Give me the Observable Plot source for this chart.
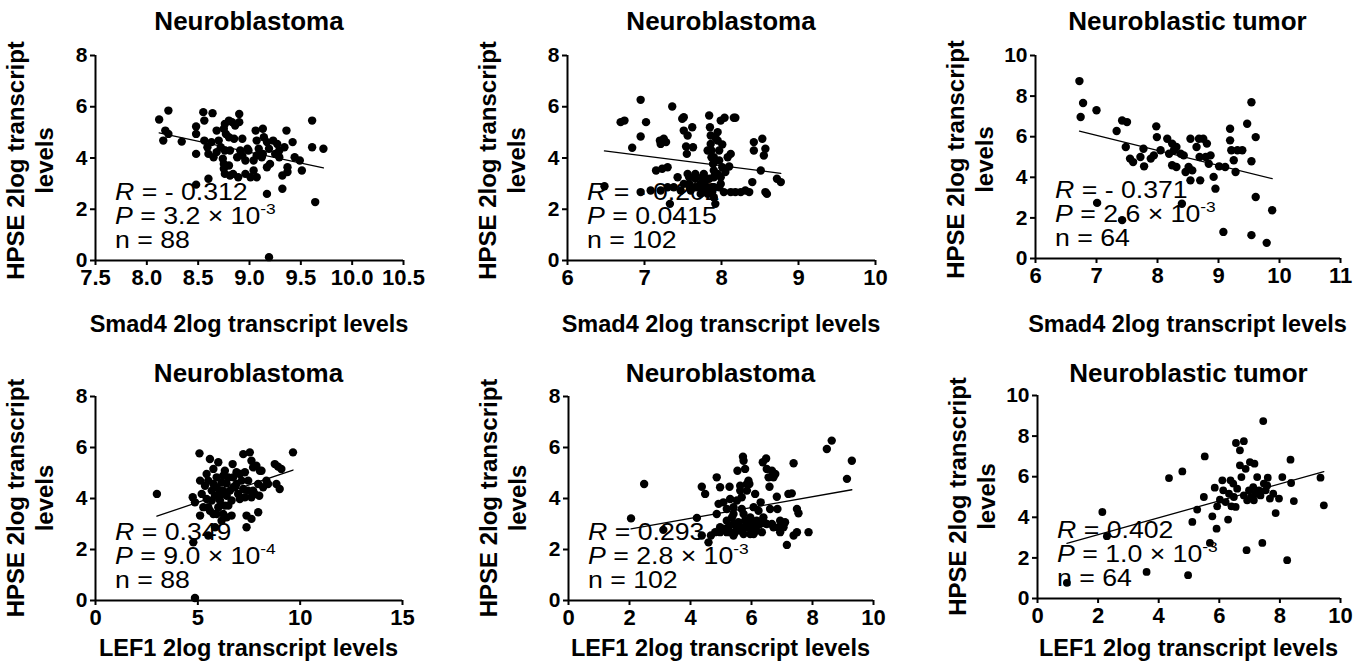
<!DOCTYPE html>
<html><head><meta charset="utf-8">
<script src="https://cdn.jsdelivr.net/npm/d3@7"></script>
<script src="https://cdn.jsdelivr.net/npm/@observablehq/plot@0.6"></script>
<style>
html,body{margin:0;padding:0;background:#fff;}
#wrap{position:relative;width:1371px;height:672px;overflow:hidden;font-family:"Liberation Sans",Arial,sans-serif;}
#wrap svg{position:absolute;}
</style></head><body><div id="wrap"></div>
<script>
// ---------- text ----------
const titles = ["Neuroblastoma","Neuroblastoma","Neuroblastic tumor","Neuroblastoma","Neuroblastoma","Neuroblastic tumor"];
const xLabels = ["Smad4 2log transcript levels","Smad4 2log transcript levels","Smad4 2log transcript levels","LEF1 2log transcript levels","LEF1 2log transcript levels","LEF1 2log transcript levels"];
const yLabelLines = ["HPSE 2log transcript","levels"];
const rTexts = ["- 0.312","- 0.202","- 0.371","0.349","0.293","0.402"];
const pMantissa = ["3.2","0.0415","2.6","9.0","2.8","1.0"];
const pExponent = ["-3",null,"-3","-4","-3","-3"];
const nValues = [88,102,64,88,102,64];
// ---------- axes ----------
const xDomains = [[7.5,10.5],[6,10],[6,11],[0,15],[0,10],[0,10]];
const xTicks = [[7.5,8,8.5,9,9.5,10,10.5],[6,7,8,9,10],[6,7,8,9,10,11],[0,5,10,15],[0,2,4,6,8,10],[0,2,4,6,8,10]];
const xTickFormats = [".1f","d","d","d","d","d"];
const yDomains = [[0,8],[0,8],[0,10],[0,8],[0,8],[0,10]];
const yTicks = [[0,2,4,6,8],[0,2,4,6,8],[0,2,4,6,8,10],[0,2,4,6,8],[0,2,4,6,8],[0,2,4,6,8,10]];
// ---------- data: [x, y] ----------
const smadNB1 = [[8.12,5.50],[8.21,5.85],[8.18,5.07],[8.21,4.94],[8.16,4.68],[8.34,4.64],[8.48,5.23],[8.48,4.94],[8.48,4.16],[8.55,5.79],
[8.56,5.46],[8.64,5.75],[8.56,4.68],[8.59,4.42],[8.63,4.62],[8.60,4.16],[8.65,4.03],[8.60,3.19],[8.48,2.96],[8.68,5.07],
[8.75,5.14],[8.76,5.33],[8.80,5.46],[8.83,5.40],[8.90,5.40],[8.90,5.72],[8.77,4.94],[8.80,4.81],[8.72,4.42],[8.76,4.29],
[8.81,4.29],[8.74,3.97],[8.75,3.77],[8.75,3.58],[8.76,3.38],[8.81,3.32],[8.88,4.03],[8.93,4.10],[8.96,3.90],[8.98,4.36],
[8.89,3.25],[8.96,3.38],[9.01,3.25],[9.04,3.51],[9.06,5.07],[9.07,4.68],[9.09,4.36],[9.07,4.10],[9.12,4.03],[9.13,5.14],
[9.14,4.81],[9.17,4.62],[9.19,4.36],[9.20,3.77],[9.17,3.64],[9.17,2.60],[9.19,0.13],[9.23,4.68],[9.27,4.55],[9.29,4.29],
[9.29,4.03],[9.32,3.32],[9.32,2.80],[9.34,4.42],[9.36,5.07],[9.37,3.64],[9.37,3.45],[9.42,4.62],[9.44,4.03],[9.49,3.90],
[9.51,3.51],[9.61,5.46],[9.61,4.42],[9.64,2.28],[9.72,4.36],[8.85,4.75],[8.93,4.75],[8.99,4.29],[8.91,4.29],[8.68,4.23],
[8.70,4.68],[8.86,5.27],[9.04,3.90],[9.13,4.16],[9.25,4.16],[8.84,3.38],[9.07,3.25],[8.80,3.71]];
const smadNB2 = [[6.48,2.90],[6.69,5.40],[6.74,5.46],[6.84,4.40],[6.95,6.27],[6.95,4.84],[6.95,2.67],[7.02,5.40],[7.08,2.73],[7.15,3.51],
[7.20,4.68],[7.21,4.55],[7.25,4.75],[7.28,4.62],[7.21,2.73],[7.23,3.58],[7.30,3.64],[7.30,2.86],[7.33,2.21],[7.36,6.01],
[7.38,2.86],[7.43,3.25],[7.47,2.73],[7.49,5.53],[7.51,5.59],[7.51,5.07],[7.54,4.45],[7.55,4.16],[7.56,4.88],[7.58,3.25],
[7.58,2.99],[7.59,2.86],[7.62,5.20],[7.63,4.42],[7.66,3.19],[7.69,2.86],[7.73,2.99],[7.75,2.67],[7.75,3.25],[7.79,3.12],
[7.82,2.86],[7.84,5.66],[7.85,5.20],[7.86,4.55],[7.87,4.29],[7.87,4.03],[7.89,3.77],[7.90,3.51],[7.90,3.25],[7.90,2.86],
[7.88,2.67],[7.90,2.47],[7.92,2.21],[7.95,5.01],[7.95,4.68],[7.97,4.29],[7.97,3.90],[7.95,3.38],[7.99,3.25],[7.99,5.46],
[8.01,4.53],[8.04,5.57],[8.05,3.45],[8.08,4.03],[8.10,3.67],[8.12,2.67],[8.16,5.57],[8.18,5.57],[8.12,4.16],[8.18,2.67],
[8.25,2.67],[8.31,2.73],[8.36,2.67],[8.40,3.06],[8.42,4.62],[8.42,4.29],[8.51,3.51],[8.53,4.75],[8.55,4.10],[8.57,4.36],
[8.57,2.67],[8.59,2.60],[8.72,3.19],[8.77,3.06],[7.65,2.86],[7.77,2.86],[7.84,3.19],[7.60,2.73],[7.97,2.86],[8.03,2.67],
[7.73,2.60],[7.82,2.60],[7.92,4.81],[7.86,4.88],[7.99,2.99],[7.66,3.38],[7.77,3.38],[7.56,3.38],[7.51,2.99],[7.90,4.03],
[8.01,3.64],[7.82,4.29]];
const smadNT = [[6.72,8.74],[6.78,7.66],[6.74,6.97],[7.00,7.30],[7.01,2.74],[7.33,6.28],[7.42,6.80],[7.50,6.72],[7.42,1.89],[7.48,5.49],
[7.55,4.92],[7.60,4.75],[7.72,5.00],[7.77,5.41],[7.78,4.54],[7.89,4.92],[7.94,5.08],[7.98,6.51],[7.99,5.98],[8.16,5.90],
[8.19,5.16],[8.24,5.66],[8.27,5.33],[8.31,5.49],[8.24,4.59],[8.31,4.51],[8.38,5.16],[8.40,2.70],[8.46,4.26],[8.51,4.51],
[8.54,5.90],[8.54,3.85],[8.57,4.34],[8.64,5.49],[8.68,5.90],[8.69,5.00],[8.70,3.85],[8.75,5.90],[8.79,5.00],[8.81,5.66],
[8.84,4.67],[8.92,4.02],[8.95,3.44],[9.01,4.54],[9.08,1.31],[9.19,6.39],[9.19,5.82],[9.21,5.33],[9.25,4.84],[9.28,4.26],
[9.31,5.33],[9.39,5.33],[9.47,6.64],[9.54,7.70],[9.54,4.79],[9.54,1.15],[9.61,5.98],[9.61,3.03],[9.79,0.77],[9.88,2.38],
[8.05,5.33],[8.43,5.08],[8.87,5.08],[9.11,4.51]];
const lefNB1 = [[3.00,4.18],[4.75,4.05],[4.86,3.85],[4.78,2.28],[4.86,0.10],[5.08,5.77],[5.11,4.70],[5.11,3.33],[5.35,4.50],[5.43,4.96],
[5.59,5.55],[5.68,4.31],[5.51,3.66],[5.51,2.55],[5.76,3.39],[5.84,2.87],[5.76,5.16],[5.92,4.83],[6.00,5.42],[6.08,3.92],
[6.16,4.63],[6.16,4.18],[6.24,3.39],[6.32,3.72],[6.41,3.26],[6.49,4.83],[6.57,4.31],[6.65,3.92],[6.65,3.33],[6.70,5.35],
[6.81,4.44],[6.89,5.03],[7.05,4.96],[7.14,4.70],[7.22,4.37],[7.22,5.74],[7.30,5.03],[7.38,3.33],[7.38,2.87],[7.46,4.70],
[7.54,5.81],[7.62,5.48],[7.62,4.05],[7.62,3.20],[7.70,4.31],[7.70,5.22],[7.86,5.29],[7.95,4.57],[8.00,4.11],[8.03,5.09],
[8.11,5.09],[7.95,3.46],[8.19,4.44],[8.35,4.70],[8.43,4.57],[8.76,5.35],[8.84,4.57],[8.92,5.25],[9.00,4.37],[9.08,5.16],
[9.65,5.81],[5.19,4.18],[5.27,3.66],[5.43,3.98],[5.59,3.52],[5.84,4.11],[5.92,4.44],[6.00,3.66],[6.24,4.31],[6.32,5.09],
[6.41,4.11],[6.49,3.72],[6.73,4.83],[6.97,4.18],[7.05,3.98],[7.30,4.05],[7.46,4.31],[7.78,4.18],[5.76,4.57],[6.08,4.31],
[5.68,3.92],[6.16,3.13],[5.92,3.39],[6.73,4.44],[5.51,4.70],[6.24,4.89],[6.89,4.57],[6.40,4.60]];
const lefNB2 = [[2.05,3.22],[2.48,4.57],[3.11,2.77],[4.21,3.24],[4.37,4.46],[4.48,4.18],[4.37,2.55],[4.59,2.28],[4.67,2.55],[4.86,4.83],
[4.97,4.44],[4.86,3.39],[4.92,3.79],[4.97,2.87],[5.08,3.85],[5.19,3.13],[5.28,4.46],[5.30,2.68],[5.41,3.39],[5.41,3.66],
[5.46,2.68],[5.52,3.92],[5.54,5.09],[5.57,3.07],[5.63,4.50],[5.68,4.05],[5.72,5.64],[5.74,5.48],[5.74,3.39],[5.79,2.87],
[5.79,5.16],[5.85,4.31],[5.90,4.70],[5.93,4.57],[5.96,2.61],[6.01,3.13],[6.07,3.66],[6.12,2.87],[6.12,4.18],[6.17,2.74],
[6.23,3.52],[6.34,2.68],[6.37,5.42],[6.39,3.26],[6.45,3.03],[6.48,5.57],[6.50,5.16],[6.56,4.83],[6.59,4.46],[6.61,3.59],
[6.67,5.09],[6.72,4.83],[6.78,4.96],[6.83,4.07],[6.85,3.59],[6.89,2.87],[6.94,2.68],[7.10,3.07],[7.16,2.18],[7.21,4.18],
[7.32,4.20],[7.38,5.38],[7.38,2.55],[7.49,2.68],[7.49,3.59],[7.54,3.42],[7.87,2.68],[8.47,5.94],[8.63,6.27],[9.13,4.77],
[9.29,5.48],[5.25,2.87],[5.41,3.00],[5.52,2.87],[5.63,2.74],[5.60,2.90],[5.79,3.13],[5.90,3.00],[5.96,3.26],[6.01,2.87],
[6.28,3.00],[6.50,3.00],[6.67,3.00],[6.72,2.87],[5.08,2.81],[4.81,2.68],[4.97,2.68],[5.19,2.68],[5.41,2.55],[5.74,2.61],
[6.07,2.61],[5.19,3.59],[5.36,3.26],[5.68,3.59],[5.85,4.57],[5.63,4.31],[5.30,3.98],[5.90,2.87],[6.17,3.13],[7.05,2.87],
[6.94,3.13],[6.30,3.85]];
const lefNT = [[0.97,0.77],[2.14,4.26],[2.29,3.07],[3.60,1.31],[4.34,5.93],[4.78,6.26],[4.97,1.15],[5.11,3.77],[5.27,4.38],[5.49,5.00],
[5.52,7.00],[5.69,2.74],[5.77,4.05],[5.85,5.46],[5.91,3.44],[5.93,4.54],[6.02,4.87],[6.10,5.82],[6.13,5.33],[6.21,4.75],
[6.29,3.89],[6.32,5.16],[6.37,5.82],[6.40,4.54],[6.46,5.66],[6.48,5.00],[6.54,4.51],[6.55,7.66],[6.59,5.41],[6.68,7.30],
[6.68,6.56],[6.73,5.98],[6.81,7.75],[6.87,6.39],[6.90,2.38],[6.92,4.84],[6.98,5.33],[7.01,6.72],[7.05,5.00],[7.12,5.49],
[7.16,6.64],[7.20,5.16],[7.25,5.98],[7.31,5.33],[7.36,5.08],[7.42,2.74],[7.45,8.74],[7.47,5.66],[7.53,5.33],[7.60,5.95],
[7.67,4.92],[7.78,5.16],[7.86,4.21],[7.97,4.92],[8.08,5.98],[8.24,1.89],[8.35,6.84],[8.37,5.69],[8.46,4.80],[9.34,5.95],
[9.45,4.59],[6.81,5.08],[7.14,4.84],[7.58,5.57]];
const panelData = [smadNB1, smadNB2, smadNT, lefNB1, lefNB2, lefNT];

// ---------- layout ----------
const frames = [
  {left:95, right:403, top:55, bottom:260},
  {left:567, right:875, top:55, bottom:260},
  {left:1035, right:1340, top:55, bottom:258},
  {left:95, right:402, top:396, bottom:600},
  {left:568, right:873, top:396, bottom:600},
  {left:1037, right:1340, top:395, bottom:598}
];
const rowTitleY = [29.5, 382];
const rowXLabelY = [331.5, 656];
const rowYLabelShift = [3, 0];
const dotR = [4.2, 4.2, 4.2, 4.2, 4.2, 3.9];
const FONT = '"Liberation Sans", Arial, Helvetica, sans-serif';

const wrap = document.getElementById("wrap");
const ML = 70, MR = 30, MT = 10, MB = 45;

panelData.forEach((data, i) => {
  const f = frames[i];
  const W = f.right - f.left, H = f.bottom - f.top;
  const fmt = d3.format(xTickFormats[i]);
  const chart = Plot.plot({
    width: W + ML + MR, height: H + MT + MB,
    marginLeft: ML, marginRight: MR, marginTop: MT, marginBottom: MB,
    x: {domain: xDomains[i]},
    y: {domain: yDomains[i]},
    style: {fontFamily: FONT, background: "none", overflow: "visible", color: "black"},
    marks: [
      Plot.axisX(xTicks[i], {tickSize: 5, tickPadding: 4, tickFormat: fmt, fontSize: 22, fontWeight: "bold", strokeWidth: 2, fill: "black", label: null}),
      Plot.axisY(yTicks[i], {tickSize: 5, tickPadding: 3, fontSize: 21, fontWeight: "bold", strokeWidth: 2, fill: "black", label: null}),
      Plot.ruleY([yDomains[i][0]], {strokeWidth: 2, stroke: "black"}),
      Plot.ruleX([xDomains[i][0]], {strokeWidth: 2, stroke: "black"}),
      Plot.dot(data, {x: d => d[0], y: d => d[1], r: dotR[i], fill: "black"}),
      Plot.linearRegressionY(data, {x: d => d[0], y: d => d[1], ci: 0, stroke: "black", strokeWidth: 1.3})
    ]
  });
  chart.style.left = (f.left - ML) + "px";
  chart.style.top = (f.top - MT) + "px";
  wrap.appendChild(chart);
});

// ---------- overlay text ----------
const ov = d3.create("svg").attr("width", 1371).attr("height", 672)
  .style("left", "0px").style("top", "0px")
  .attr("font-family", FONT).attr("fill", "black");

frames.forEach((f, i) => {
  const row = i < 3 ? 0 : 1;
  const cx = (f.left + f.right) / 2, cy = (f.top + f.bottom) / 2 + rowYLabelShift[row];
  ov.append("text").attr("x", cx).attr("y", rowTitleY[row]).attr("text-anchor", "middle")
    .attr("font-size", 26).attr("font-weight", "bold").text(titles[i]);
  ov.append("text").attr("x", cx).attr("y", rowXLabelY[row]).attr("text-anchor", "middle")
    .attr("font-size", 23.5).attr("font-weight", "bold").text(xLabels[i]);
  yLabelLines.forEach((line, j) => {
    ov.append("text").attr("transform", `translate(${f.left - 71 + 29 * j},${cy}) rotate(-90)`)
      .attr("text-anchor", "middle").attr("font-size", 24).attr("font-weight", "bold").text(line);
  });
  const g = ov.append("g").attr("transform", `translate(${f.left + 20},0) scale(1.16,1)`)
    .attr("font-size", 23);
  const r = g.append("text").attr("x", 0).attr("y", f.bottom - 60);
  r.append("tspan").attr("font-style", "italic").text("R");
  r.append("tspan").text(" = " + rTexts[i]);
  const p = g.append("text").attr("x", 0).attr("y", f.bottom - 36);
  p.append("tspan").attr("font-style", "italic").text("P");
  if (pExponent[i]) {
    p.append("tspan").text(" = " + pMantissa[i] + " \u00D7 10");
    p.append("tspan").attr("font-size", 15).attr("dy", -10).text(pExponent[i]);
  } else {
    p.append("tspan").text(" = " + pMantissa[i]);
  }
  g.append("text").attr("x", 0).attr("y", f.bottom - 12).text("n = " + nValues[i]);
});
wrap.appendChild(ov.node());
</script>
</body></html>
